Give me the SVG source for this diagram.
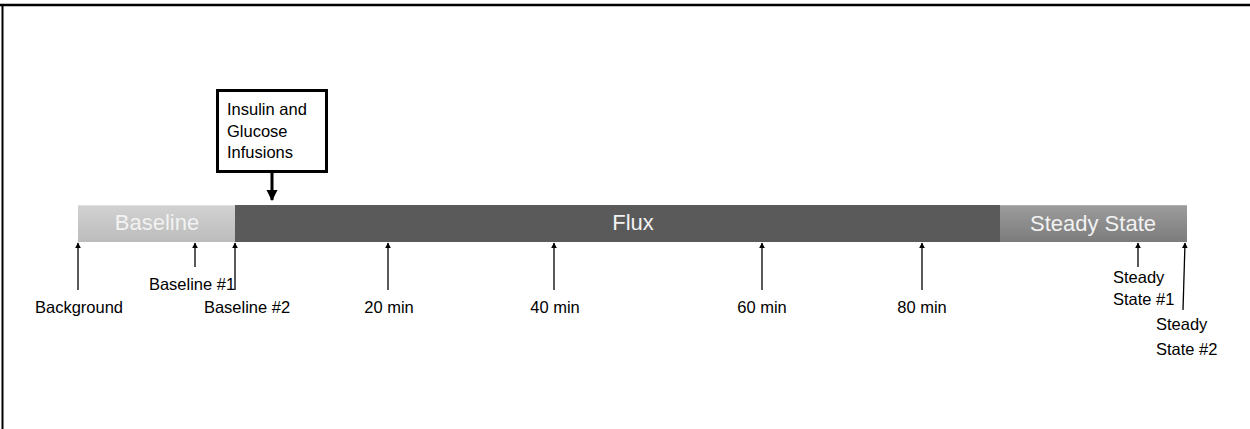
<svg xmlns="http://www.w3.org/2000/svg" width="1250" height="429" viewBox="0 0 1250 429">
<defs>
<style>
.lbl{font-family:"Liberation Sans",Arial,sans-serif;font-size:16.5px;fill:#000}
.bar{font-family:"Liberation Sans",Arial,sans-serif;font-size:22px;fill:#f2f2f2}
.conn{stroke:#000;stroke-width:1.3;fill:none;marker-end:url(#ah)}
</style>
<marker id="ah" viewBox="0 0 10 10" refX="9" refY="5" markerWidth="6" markerHeight="7" markerUnits="userSpaceOnUse" orient="auto">
<path d="M0,0 L10,5 L0,10 Z" fill="#000"/>
</marker>
<marker id="ahBig" viewBox="0 0 10 10" refX="9" refY="5" markerWidth="11" markerHeight="12" markerUnits="userSpaceOnUse" orient="auto">
<path d="M0,0 L10,5 L0,10 Z" fill="#000"/>
</marker>
<linearGradient id="gBase" x1="0" y1="0" x2="0" y2="1">
<stop offset="0" stop-color="#d2d2d2"/><stop offset="1" stop-color="#bcbcbc"/>
</linearGradient>
<linearGradient id="gSteady" x1="0" y1="0" x2="0" y2="1">
<stop offset="0" stop-color="#9c9c9c"/><stop offset="1" stop-color="#7c7c7c"/>
</linearGradient>
</defs>
<rect width="1250" height="429" fill="#fff"/>
<g id="frame">
<line x1="0" y1="5" x2="1250" y2="5" stroke="#000" stroke-width="2.5"/>
<line x1="2.5" y1="5" x2="2.5" y2="429" stroke="#000" stroke-width="2"/>
</g>
<g id="baseline-bar">
<rect x="78" y="205" width="157" height="37" fill="url(#gBase)"/>
<line x1="78" y1="205.5" x2="235" y2="205.5" stroke="#e0e0e0" stroke-width="1"/>
<text class="bar" x="157" y="230" text-anchor="middle">Baseline</text>
</g>
<g id="flux-bar">
<rect x="235" y="205" width="766" height="37" fill="#5a5a5a"/>
<text class="bar" x="633" y="230" text-anchor="middle">Flux</text>
</g>
<g id="steady-bar">
<rect x="1000" y="205" width="187" height="37" fill="url(#gSteady)"/>
<line x1="1000" y1="205.5" x2="1187" y2="205.5" stroke="#b0b0b0" stroke-width="1"/>
<text class="bar" x="1093" y="231" text-anchor="middle">Steady State</text>
</g>
<g id="infusion-box">
<rect x="217.5" y="90.5" width="109" height="81" fill="#fff" stroke="#000" stroke-width="3"/>
<text class="lbl" x="227" y="115">Insulin and</text>
<text class="lbl" x="227" y="137">Glucose</text>
<text class="lbl" x="227" y="158">Infusions</text>
</g>
<g id="labels">
<text class="lbl" x="79" y="313" text-anchor="middle">Background</text>
<text class="lbl" x="192" y="290" text-anchor="middle">Baseline #1</text>
<text class="lbl" x="247" y="313" text-anchor="middle">Baseline #2</text>
<text class="lbl" x="389" y="313" text-anchor="middle">20 min</text>
<text class="lbl" x="555" y="313" text-anchor="middle">40 min</text>
<text class="lbl" x="762" y="313" text-anchor="middle">60 min</text>
<text class="lbl" x="922" y="313" text-anchor="middle">80 min</text>
<text class="lbl" x="1113" y="283">Steady</text>
<text class="lbl" x="1113" y="305">State #1</text>
<text class="lbl" x="1156" y="330">Steady</text>
<text class="lbl" x="1156" y="355">State #2</text>
</g>
<g id="connectors">
<line x1="272" y1="172" x2="272" y2="200" stroke="#000" stroke-width="3" marker-end="url(#ahBig)"/>
<line class="conn" x1="78" y1="290" x2="78" y2="243"/>
<line class="conn" x1="195" y1="267" x2="195" y2="243"/>
<line class="conn" x1="235" y1="290" x2="235" y2="243"/>
<line class="conn" x1="388" y1="290" x2="388" y2="243"/>
<line class="conn" x1="554" y1="290" x2="554" y2="243"/>
<line class="conn" x1="762" y1="290" x2="762" y2="243"/>
<line class="conn" x1="922" y1="290" x2="922" y2="243"/>
<line class="conn" x1="1138" y1="267" x2="1138" y2="243"/>
<line class="conn" x1="1183" y1="310" x2="1185" y2="243"/>
</g>
</svg>
